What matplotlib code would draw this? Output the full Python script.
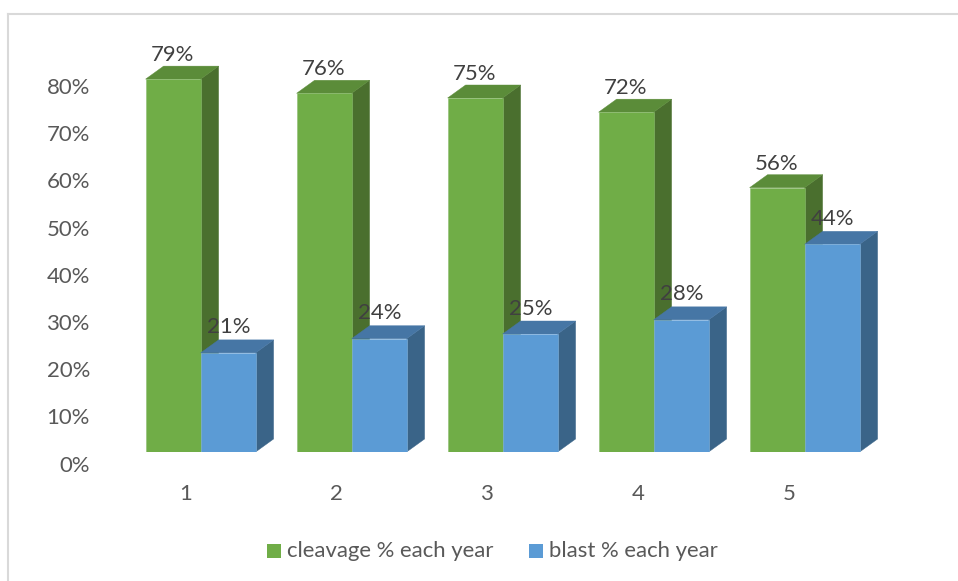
import matplotlib
matplotlib.use('Agg')
import matplotlib.pyplot as plt
from matplotlib.patches import Polygon, Rectangle

categories = ['1', '2', '3', '4', '5']
cleavage = [79, 76, 75, 72, 56]
blast = [21, 24, 25, 28, 44]
bar_labels_c = ['79%', '76%', '75%', '72%', '56%']
bar_labels_b = ['21%', '24%', '25%', '28%', '44%']
yticks = [0, 10, 20, 30, 40, 50, 60, 70, 80]
series_names = ['cleavage % each year', 'blast % each year']

plt.rcParams['font.family'] = ['Lato', 'DejaVu Sans']
W, H = 958, 581
FS = 15.9
fig = plt.figure(figsize=(W/100, H/100), dpi=100)
x0, x1 = 110, 900
y_base, px_per = 452, 4.72
ax = fig.add_axes([x0/W, 1-y_base/H, (x1-x0)/W, 420/H])
ax.set_ylim(0, 420/px_per)
unit = 151.0
bw = 55/unit
left0 = 145.6 + 55
ax.set_xlim((x0-left0)/unit, (x1-left0)/unit)
ax.axis('off')

dx, dy = 18/unit, 13/px_per
G, GT, GS = '#70ad47', '#5b8c39', '#4a6f2e'
B, BT, BS = '#5b9bd5', '#4676a5', '#3a6488'
EG, EB = '#8dbd70', '#85b5e0'
PT = 0.72  # points per pixel

def bar3d(xl, v, c, ct, cs, edge, z):
    ax.add_patch(Polygon([(xl+bw, 0), (xl+bw+dx, dy), (xl+bw+dx, v+dy), (xl+bw, v)],
                         fc=cs, ec=cs, lw=0.3, zorder=z))
    ax.add_patch(Polygon([(xl, v), (xl+dx, v+dy), (xl+bw+dx, v+dy), (xl+bw, v)],
                         fc=ct, ec=ct, lw=0.3, zorder=z))
    ax.add_patch(Rectangle((xl, 0), bw, v, fc=c, ec=edge, lw=0.4, zorder=z+0.1))

for i, (c, b) in enumerate(zip(cleavage, blast)):
    bar3d(i-bw, c, G, GT, GS, EG, 2 + i)
    bar3d(i, b, B, BT, BS, EB, 2.5 + i)
    ax.annotate(bar_labels_c[i], (i-bw, c+dy), xytext=(27*PT, 11*PT), textcoords='offset points',
                ha='center', va='center', fontsize=FS, color='#404040', zorder=20, annotation_clip=False)
    ax.annotate(bar_labels_b[i], (i, b+dy), xytext=(28*PT, 12.5*PT), textcoords='offset points',
                ha='center', va='center', fontsize=FS, color='#404040', zorder=20, annotation_clip=False)

for t in yticks:
    ax.annotate(f'{t}%', (0, t), xycoords=('axes fraction', 'data'), xytext=((90-x0)*PT, -13.5*PT),
                textcoords='offset points', ha='right', va='center', fontsize=FS, color='#595959',
                annotation_clip=False)
for i, cat in enumerate(categories):
    ax.annotate(cat, (i-0.1, 0), xycoords='data', xytext=(0, -42.5*PT), textcoords='offset points',
                ha='center', va='center', fontsize=FS, color='#595959', annotation_clip=False)

# chart frame: left and top edges only reach the picture
fig.add_artist(plt.Line2D([7.5/W, 7.5/W], [0, 1-14/H], color='#d9d9d9', lw=1.5))
fig.add_artist(plt.Line2D([7.5/W, 1], [1-14/H, 1-14/H], color='#d9d9d9', lw=1.5))

# legend
for px, col, name in [(267, G, series_names[0]), (529, B, series_names[1])]:
    fig.add_artist(Rectangle((px/W, 1-558/H), 14/W, 14/H, fc=col, ec='none', transform=fig.transFigure))
    fig.text((px+20)/W, 1-551/H, name, ha='left', va='center', fontsize=FS, color='#595959')

fig.savefig('out.png', dpi=100)
